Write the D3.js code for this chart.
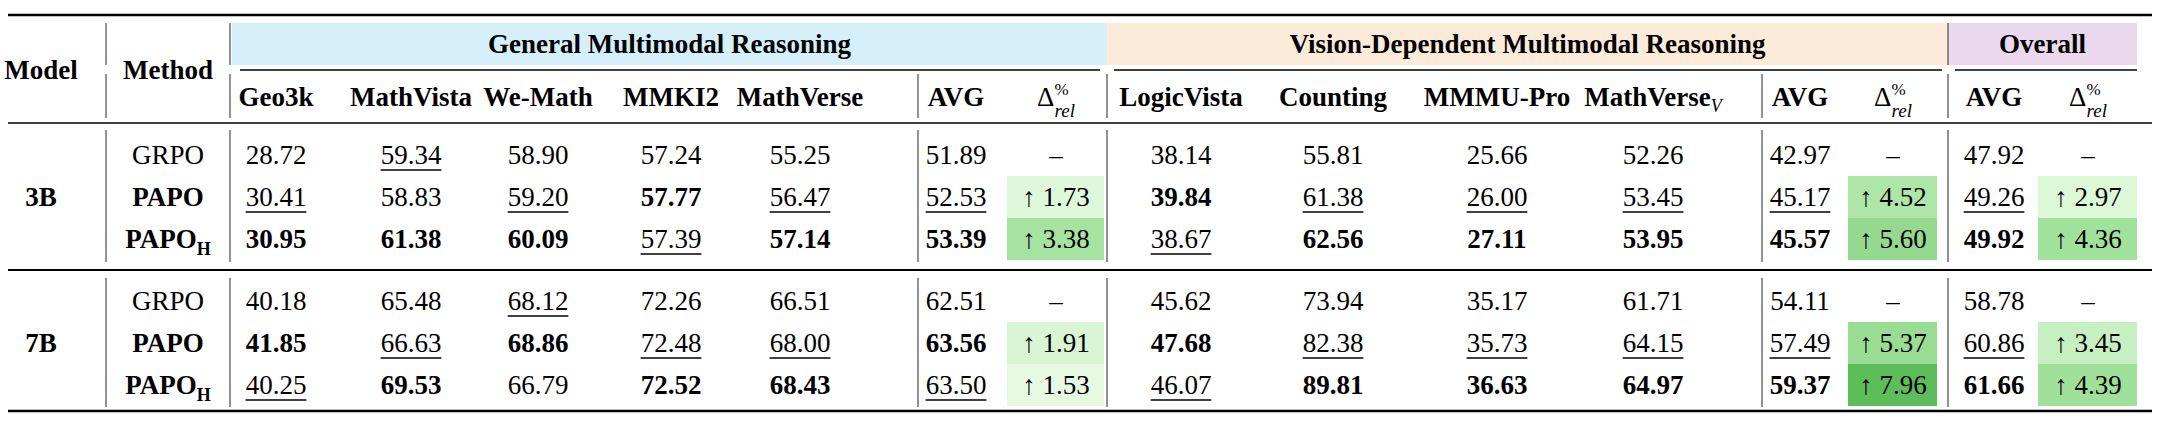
<!DOCTYPE html>
<html><head><meta charset="utf-8">
<script src="https://cdn.jsdelivr.net/npm/d3@7"></script>
<style>body{margin:0;background:#fff}</style>
</head><body><svg id="t" width="2163" height="423"></svg>
<script>
// table data
const models = ['3B', '7B'];
const methods = ['GRPO', 'PAPO', 'PAPO_H'];
const groups = ['General Multimodal Reasoning', 'Vision-Dependent Multimodal Reasoning', 'Overall'];
const columns = ['Geo3k', 'MathVista', 'We-Math', 'MMKI2', 'MathVerse', 'AVG', 'Δ',
  'LogicVista', 'Counting', 'MMMU-Pro', 'MathVerse_V', 'AVG2', 'Δ2', 'AVG3', 'Δ3'];
const scores = [
  [28.72, 59.34, 58.90, 57.24, 55.25, 51.89, null, 38.14, 55.81, 25.66, 52.26, 42.97, null, 47.92, null],
  [30.41, 58.83, 59.20, 57.77, 56.47, 52.53, 1.73, 39.84, 61.38, 26.00, 53.45, 45.17, 4.52, 49.26, 2.97],
  [30.95, 61.38, 60.09, 57.39, 57.14, 53.39, 3.38, 38.67, 62.56, 27.11, 53.95, 45.57, 5.60, 49.92, 4.36],
  [40.18, 65.48, 68.12, 72.26, 66.51, 62.51, null, 45.62, 73.94, 35.17, 61.71, 54.11, null, 58.78, null],
  [41.85, 66.63, 68.86, 72.48, 68.00, 63.56, 1.91, 47.68, 82.38, 35.73, 64.15, 57.49, 5.37, 60.86, 3.45],
  [40.25, 69.53, 66.79, 72.52, 68.43, 63.50, 1.53, 46.07, 89.81, 36.63, 64.97, 59.37, 7.96, 61.66, 4.39],
];
// b = best (bold), u = second (underline)
const marks = [
  ['', 'u', '', '', '', '', '', '', '', '', '', '', '', '', ''],
  ['u', '', 'u', 'b', 'u', 'u', '', 'b', 'u', 'u', 'u', 'u', '', 'u', ''],
  ['b', 'b', 'b', 'u', 'b', 'b', '', 'u', 'b', 'b', 'b', 'b', '', 'b', ''],
  ['', '', 'u', '', '', '', '', '', '', '', '', '', '', '', ''],
  ['b', 'u', 'b', 'u', 'u', 'b', '', 'b', 'u', 'u', 'u', 'u', '', 'u', ''],
  ['u', 'b', '', 'b', 'b', 'u', '', 'u', 'b', 'b', 'b', 'b', '', 'b', ''],
];

/* layout */
const colX = [276, 411, 538, 671, 800, 956, 1056, 1181, 1333, 1497, 1653, 1800, 1893, 1994, 2088];
const x = d3.scaleOrdinal(columns, colX);
const rowY3 = d3.scaleBand().domain(d3.range(3)).range([134, 260]);
const rowY7 = d3.scaleBand().domain(d3.range(3, 6)).range([280, 406]);
const yOf = i => (i < 3 ? rowY3(i) : rowY7(i));
const bh = rowY3.bandwidth();

const deltaColour = {
  'Δ': d3.scaleLinear([1.53, 3.38], ['#e6fae2', '#a6e3a0']),
  'Δ2': d3.scaleLinear([4.52, 7.96], ['#ade6a7', '#5dbd5a']),
  'Δ3': d3.scaleLinear([2.97, 4.39], ['#dcf8d7', '#9fe09a']),
};
const cellEdges = { 'Δ': [1007, 1104], 'Δ2': [1848, 1937], 'Δ3': [2038, 2137] };

const svg = d3.select('#t').attr('font-family', '"Liberation Serif", "Times New Roman", "DejaVu Serif", serif');
const fs = 27;

/* group header fills */
const groupSpans = [[232, 1107, '#d5f0fa'], [1107, 1948, '#fdebd9'], [1948, 2137, '#ebd8ec']];
svg.selectAll('rect.grp').data(groups).enter().append('rect')
  .attr('x', (d, i) => groupSpans[i][0]).attr('y', 23)
  .attr('width', (d, i) => groupSpans[i][1] - groupSpans[i][0]).attr('height', 42)
  .attr('fill', (d, i) => groupSpans[i][2]);
svg.selectAll('text.grp').data(groups).enter().append('text')
  .attr('x', (d, i) => (groupSpans[i][0] + groupSpans[i][1]) / 2).attr('y', 44).attr('dy', '.35em')
  .attr('text-anchor', 'middle').attr('font-weight', 700).attr('font-size', fs).text(d => d);

/* green delta cells */
scores.forEach((row, r) => {
  ['Δ', 'Δ2', 'Δ3'].forEach(c => {
    const v = row[columns.indexOf(c)];
    if (v == null) return;
    svg.append('rect').attr('x', cellEdges[c][0]).attr('y', yOf(r))
      .attr('width', cellEdges[c][1] - cellEdges[c][0]).attr('height', bh)
      .attr('fill', deltaColour[c](v));
  });
});

/* rules */
const line = (x1, y1, x2, y2, w, c) => svg.append('line')
  .attr('x1', x1).attr('y1', y1).attr('x2', x2).attr('y2', y2)
  .attr('stroke', c || '#000').attr('stroke-width', w);
line(8, 15, 2152, 15, 2.5);
line(8, 123, 2152, 123, 1.5);
line(8, 270, 2152, 270, 2.2);
line(8, 411, 2152, 411, 2.5);
line(240, 70, 1100, 70, 1.3);
line(1114, 70, 1942, 70, 1.3);
line(1955, 70, 2137, 70, 1.3);

const vSeg = [[23, 65], [74, 118], [130, 262], [278, 407]];
[[106, [0, 1, 2, 3]], [230, [0, 1, 2, 3]], [918, [1, 2, 3]], [1107, [1, 2, 3]],
  [1762, [1, 2, 3]], [1948, [0, 1, 2, 3]]].forEach(([vx, segs]) => {
  segs.forEach(s => line(vx, vSeg[s][0], vx, vSeg[s][1], 1.3, '#555'));
});

/* left headers */
svg.append('text').attr('x', 41).attr('y', 70).attr('dy', '.35em').attr('text-anchor', 'middle')
  .attr('font-weight', 700).attr('font-size', fs).text('Model');
svg.append('text').attr('x', 168).attr('y', 70).attr('dy', '.35em').attr('text-anchor', 'middle')
  .attr('font-weight', 700).attr('font-size', fs).text('Method');

/* column headers */
columns.forEach(c => {
  const t = svg.append('text').attr('x', x(c)).attr('y', 97).attr('dy', '.35em')
    .attr('text-anchor', 'middle').attr('font-size', fs);
  if (c.startsWith('Δ')) {
    t.append('tspan').text('Δ');
    t.append('tspan').attr('font-size', 17).attr('dy', -11).text('%');
    t.append('tspan').attr('font-size', 19).attr('font-style', 'italic').attr('dx', -14).attr('dy', 22).text('rel');
  } else if (c === 'MathVerse_V') {
    t.attr('font-weight', 700).text('MathVerse');
    t.append('tspan').attr('font-size', 18).attr('font-style', 'italic').attr('font-weight', 400).attr('dy', 6).text('V');
  } else {
    t.attr('font-weight', 700).text(c.startsWith('AVG') ? 'AVG' : c);
  }
});

/* body */
models.forEach((m, mi) => {
  svg.append('text').attr('x', 41).attr('y', yOf(mi * 3 + 1) + bh / 2).attr('dy', '.35em')
    .attr('text-anchor', 'middle').attr('font-weight', 700).attr('font-size', fs).text(m);
  methods.forEach((me, k) => {
    const r = mi * 3 + k;
    const t = svg.append('text').attr('x', 168).attr('y', yOf(r) + bh / 2).attr('dy', '.35em')
      .attr('text-anchor', 'middle').attr('font-size', fs).attr('font-weight', k ? 700 : 400);
    if (me === 'PAPO_H') {
      t.text('PAPO');
      t.append('tspan').attr('font-size', 18).attr('dy', 7).text('H');
    } else t.text(me);
  });
});

scores.forEach((row, r) => {
  row.forEach((v, ci) => {
    const c = columns[ci];
    const cy = yOf(r) + bh / 2;
    const mk = marks[r][ci];
    let s;
    if (c.startsWith('Δ')) s = v == null ? '–' : '↑ ' + v.toFixed(2);
    else s = v.toFixed(2);
    const t = svg.append('text').attr('x', x(c)).attr('y', cy).attr('dy', '.35em')
      .attr('text-anchor', 'middle').attr('font-size', fs)
      .attr('font-weight', mk === 'b' ? 700 : 400).text(s);
    if (mk === 'u') {
      const w = t.node().getComputedTextLength();
      line(x(c) - w / 2, cy + 15, x(c) + w / 2, cy + 15, 1.4);
    }
  });
});
</script></body></html>
